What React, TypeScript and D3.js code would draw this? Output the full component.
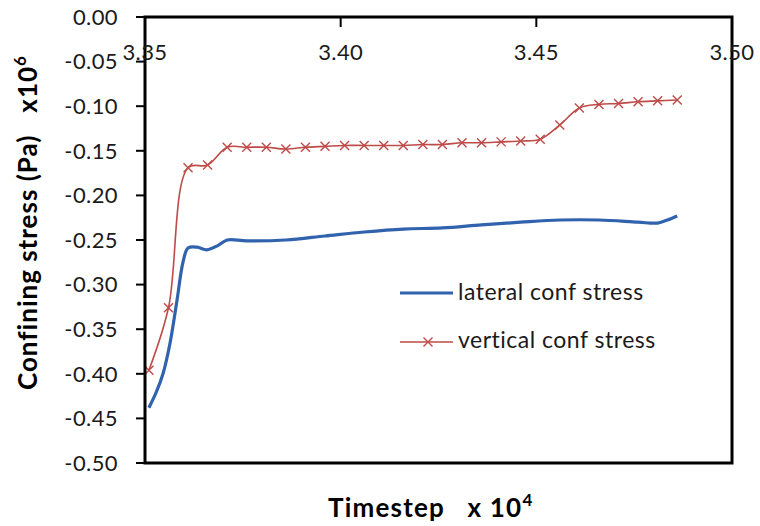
import React from 'react';
import * as d3 from 'd3';

// Axis ticks
const timeTicks = [3.35, 3.4, 3.45, 3.5];
const stressTicks = [0, -0.05, -0.1, -0.15, -0.2, -0.25, -0.3, -0.35, -0.4, -0.45, -0.5];

// Vertical confining stress (x10^6 Pa) sampled every 50 timesteps (x10^4)
const verticalTime = [
  3.351, 3.356, 3.361, 3.366, 3.371, 3.376, 3.381, 3.386, 3.391, 3.396,
  3.401, 3.406, 3.411, 3.416, 3.421, 3.426, 3.431, 3.436, 3.441, 3.446,
  3.451, 3.456, 3.461, 3.466, 3.471, 3.476, 3.481, 3.486,
];
const verticalStress = [
  -0.396, -0.326, -0.169, -0.166, -0.146, -0.146, -0.146, -0.148, -0.146, -0.145,
  -0.144, -0.144, -0.144, -0.144, -0.143, -0.143, -0.141, -0.141, -0.14, -0.139,
  -0.137, -0.121, -0.102, -0.098, -0.097, -0.095, -0.094, -0.093,
];

// Lateral confining stress (x10^6 Pa)
const lateralTime = [
  3.351, 3.3528, 3.3546, 3.3564, 3.3582, 3.3597, 3.361, 3.3633, 3.3658, 3.3687,
  3.371, 3.376, 3.386, 3.396, 3.406, 3.416, 3.426, 3.436, 3.446, 3.456,
  3.466, 3.476, 3.481, 3.4835, 3.486,
];
const lateralStress = [
  -0.438, -0.4215, -0.4, -0.3655, -0.317, -0.275, -0.259, -0.258, -0.261, -0.256,
  -0.25, -0.251, -0.25, -0.2455, -0.241, -0.2377, -0.2365, -0.233, -0.23, -0.2276,
  -0.2276, -0.23, -0.231, -0.2276, -0.223,
];

const W = 760;
const H = 526;
const left = 145;
const right = 732;
const top = 17;
const bottom = 463;

const BLUE = '#3062AE';
const RED = '#BE4B48';
const FONT = 'Lato, "Open Sans", sans-serif';

export default function App() {
  const x = d3.scaleLinear().domain([3.35, 3.5]).range([left, right]);
  const y = d3.scaleLinear().domain([0, -0.5]).range([top, bottom]);

  const lateral = lateralTime.map((t, i) => [t, lateralStress[i]] as [number, number]);
  const vertical = verticalTime.map((t, i) => [t, verticalStress[i]] as [number, number]);

  const line = d3
    .line<[number, number]>()
    .x((d) => x(d[0]))
    .y((d) => y(d[1]))
    .curve(d3.curveCatmullRom.alpha(0.5));

  const cross = (cx: number, cy: number, r: number, key?: React.Key) => (
    <path
      key={key}
      d={`M${cx - r},${cy - r}L${cx + r},${cy + r}M${cx - r},${cy + r}L${cx + r},${cy - r}`}
      stroke={RED}
      strokeWidth={1.4}
      fill="none"
    />
  );

  return (
    <svg
      width={W}
      height={H}
      style={{ position: 'absolute', left: 0, top: 0, background: '#fff' }}
      fontFamily={FONT}
    >
      <rect x={0} y={0} width={W} height={H} fill="#fff" />

      {/* series */}
      <path d={line(lateral) || ''} fill="none" stroke={BLUE} strokeWidth={3.2} strokeLinejoin="round" />
      <path d={line(vertical) || ''} fill="none" stroke={RED} strokeWidth={1.6} strokeLinejoin="round" />
      {vertical.map((d, i) => cross(x(d[0]), y(d[1]), 4.5, i))}

      {/* plot frame */}
      <rect x={left} y={top} width={right - left} height={bottom - top} fill="none" stroke="#000" strokeWidth={3} />

      {/* y axis ticks & labels */}
      {stressTicks.map((v) => (
        <g key={v}>
          <line x1={left - 9} x2={left} y1={y(v)} y2={y(v)} stroke="#000" strokeWidth={2} />
          <text x={118} y={y(v)} dy="0.35em" textAnchor="end" fontSize={22} letterSpacing={0.4} fill="#1a1a1a">
            {v.toFixed(2)}
          </text>
        </g>
      ))}

      {/* x axis (along the zero line) ticks & labels */}
      {timeTicks.map((t) => (
        <g key={t}>
          <line x1={x(t)} x2={x(t)} y1={top} y2={top + 10} stroke="#000" strokeWidth={2} />
          <text x={x(t)} y={60} textAnchor="middle" fontSize={22} letterSpacing={0.4} fill="#1a1a1a">
            {t.toFixed(2)}
          </text>
        </g>
      ))}

      {/* axis titles */}
      <text
        transform="translate(37,390) rotate(-90)"
        fontSize={26}
        letterSpacing={1}
        fontWeight="bold"
        fill="#000"
        style={{ whiteSpace: 'pre' }}
      >
        {'Confining stress (Pa)   x10'}
        <tspan fontSize={17} dy={-11}>6</tspan>
      </text>
      <text x={328} y={517} fontSize={26} letterSpacing={1.2} fontWeight="bold" fill="#000" style={{ whiteSpace: 'pre' }}>
        {'Timestep   x 10'}
        <tspan fontSize={17} dy={-11}>4</tspan>
      </text>

      {/* legend */}
      <line x1={400} x2={453} y1={293} y2={293} stroke={BLUE} strokeWidth={3.2} />
      <text x={458} y={300} fontSize={23} letterSpacing={0.5} fill="#1a1a1a">lateral conf stress</text>
      <line x1={400} x2={453} y1={342} y2={342} stroke={RED} strokeWidth={1.6} />
      {cross(428, 342, 4.5)}
      <text x={458} y={348} fontSize={23} letterSpacing={0.5} fill="#1a1a1a">vertical conf stress</text>
    </svg>
  );
}
